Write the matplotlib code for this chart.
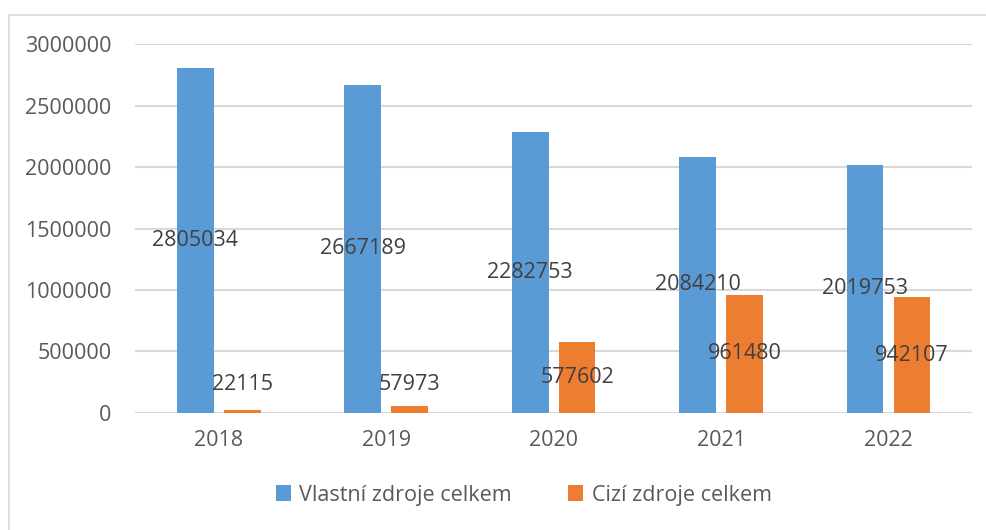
import numpy as np
import matplotlib.pyplot as plt
from matplotlib.patches import Rectangle

years = ['2018', '2019', '2020', '2021', '2022']
vlastni = [2805034, 2667189, 2282753, 2084210, 2019753]
cizi = [22115, 57973, 577602, 961480, 942107]
series_names = ['Vlastní zdroje celkem', 'Cizí zdroje celkem']

blue = '#5B9BD5'
orange = '#ED7D31'
grey = '#595959'
label_col = '#404040'

plt.rcParams['font.family'] = ['Open Sans', 'DejaVu Sans']

fig = plt.figure(figsize=(9.86, 5.30), dpi=100)
ax = fig.add_axes([0.137, 0.2208, 0.849, 0.696])

x = np.arange(len(years))
w = 0.22
off = 0.14
b1 = ax.bar(x - off, vlastni, w, color=blue, label=series_names[0], zorder=3)
b2 = ax.bar(x + off, cizi, w, color=orange, label=series_names[1], zorder=3)

# labels sit in the middle of each bar, small ones get pushed up a bit
for xs, vals in ((x - off, vlastni), (x + off, cizi)):
    for xi, v in zip(xs, vals):
        ax.text(xi, max(v / 2, 230000), str(v), ha='center', va='center',
                fontsize=15.5, color=label_col, zorder=4)

ax.set_xlim(-0.5, len(years) - 0.5)
ax.set_ylim(0, 3000000)
ax.set_yticks(np.arange(0, 3000001, 500000))
ax.set_yticklabels([str(v) for v in range(0, 3000001, 500000)])
ax.set_xticks(x)
ax.set_xticklabels(years)
ax.tick_params(axis='both', length=0, labelsize=15.5, labelcolor=grey)
ax.tick_params(axis='y', pad=17)
ax.tick_params(axis='x', pad=12)
ax.grid(axis='y', color='#D9D9D9', linewidth=1.5, zorder=0)
for s in ax.spines.values():
    s.set_visible(False)

fig.legend(handles=[b1, b2], loc='center', bbox_to_anchor=(0.531, 0.066),
           ncol=2, frameon=False, fontsize=15.5, labelcolor=grey,
           handlelength=0.7, handleheight=0.7, columnspacing=2.6,
           handletextpad=0.4)

fig.patches.append(Rectangle((9 / 986, -0.01), 1.0, (530 - 15) / 530 + 0.01,
                             transform=fig.transFigure, fill=False,
                             edgecolor='#D9D9D9', linewidth=1.2))

plt.savefig('out.png', dpi=100)
